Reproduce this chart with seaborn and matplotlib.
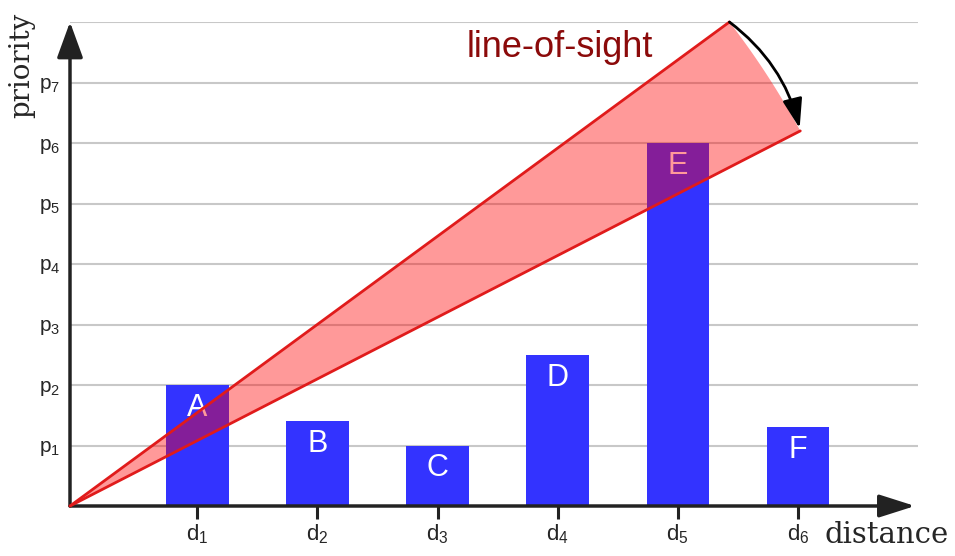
import numpy as np
import pandas as pd
import seaborn as sns
import matplotlib.pyplot as plt
from matplotlib.patches import Polygon

# Data
bar_names = ["A", "B", "C", "D", "E", "F"]
distances = [1, 2, 3, 4, 5, 6]
priorities = [2.0, 1.4, 1.0, 2.5, 6.0, 1.3]
d_labels = [r"$\mathregular{d_1}$", r"$\mathregular{d_2}$", r"$\mathregular{d_3}$",
            r"$\mathregular{d_4}$", r"$\mathregular{d_5}$", r"$\mathregular{d_6}$"]
p_levels = [1, 2, 3, 4, 5, 6, 7, 8]
p_labels = [r"$\mathregular{p_1}$", r"$\mathregular{p_2}$", r"$\mathregular{p_3}$",
            r"$\mathregular{p_4}$", r"$\mathregular{p_5}$", r"$\mathregular{p_6}$",
            r"$\mathregular{p_7}$", ""]
sight_upper = (5.43, 8.0)
sight_lower = (6.02, 6.2)

df = pd.DataFrame({"distance": distances, "priority": priorities})

sns.set_theme(style="white")
plt.rcParams["font.family"] = ["Liberation Sans", "DejaVu Sans"]
plt.rcParams["mathtext.default"] = "regular"

fig = plt.figure(figsize=(9.55, 5.56), dpi=100)
ax = fig.add_axes([70 / 955, 50 / 556, 848 / 955, 484 / 556])

sns.barplot(data=df, x="distance", y="priority", native_scale=True, width=0.52,
            color="#3333ff", saturation=1, errorbar=None, linewidth=0, ax=ax, zorder=2)

x0 = -0.06
ax.set_xlim(x0, 7.0)
ax.set_ylim(0, 8)
for s in ax.spines.values():
    s.set_visible(False)

ax.set_xticks(distances)
ax.set_xticklabels(d_labels, fontsize=16)
ax.set_yticks(p_levels)
ax.set_yticklabels(p_labels, fontsize=15)
ax.tick_params(axis="x", direction="out", length=9, width=2.2, color="#222222", pad=3, bottom=True)
ax.tick_params(axis="y", length=0, pad=7)
ax.grid(True, axis="y", color="#c8c8c8", lw=1.5)
ax.grid(False, axis="x")
ax.set_axisbelow(True)
ax.set_xlabel("")
ax.set_ylabel("")

# letters inside the bars
for x, y, name in zip(distances, priorities, bar_names):
    ax.text(x, y - 0.38, name, color="white", ha="center", va="center",
            fontsize=22, zorder=3)

# line-of-sight sector (arc centred on the origin in screen space)
o = ax.transData.transform((x0, 0))
u = ax.transData.transform(sight_upper)
l = ax.transData.transform(sight_lower)
a_u = np.arctan2(u[1] - o[1], u[0] - o[0])
a_l = np.arctan2(l[1] - o[1], l[0] - o[0])
r_u = np.hypot(*(u - o))
r_l = np.hypot(*(l - o))
t = np.linspace(0, 1, 40)
ang = a_u + (a_l - a_u) * t
rad = r_u + (r_l - r_u) * t
arc_disp = np.column_stack([o[0] + rad * np.cos(ang), o[1] + rad * np.sin(ang)])
arc_data = ax.transData.inverted().transform(arc_disp)
pts = np.vstack([[x0, 0], arc_data])
ax.add_patch(Polygon(pts, closed=True, facecolor="#ff0000", alpha=0.4,
                     edgecolor="none", zorder=4, clip_on=False))
for end in (sight_upper, sight_lower):
    ax.plot([x0, end[0]], [0, end[1]], color="#e01b1b", lw=2, zorder=5,
            clip_on=False, solid_capstyle="round")

ax.annotate("", xy=sight_lower, xytext=sight_upper, annotation_clip=False,
            arrowprops=dict(arrowstyle="-|>,head_length=0.9,head_width=0.3",
                            connectionstyle="arc3,rad=-0.18", color="black",
                            lw=2, mutation_scale=20, shrinkA=0, shrinkB=2),
            zorder=6)

ax.text(4.02, 7.58, "line-of-sight", color="#8b0a0a", fontsize=26,
        ha="center", va="center", zorder=6)

# axis arrows
ax.annotate("", xy=(0.9965, 0), xytext=(0, 0), xycoords="axes fraction",
            annotation_clip=False,
            arrowprops=dict(arrowstyle="-|>,head_length=1.1,head_width=0.35", lw=2.5,
                            color="#222222", mutation_scale=20, shrinkA=0, shrinkB=0),
            zorder=3)
ax.annotate("", xy=(0, 1.0), xytext=(0, 0), xycoords="axes fraction",
            annotation_clip=False,
            arrowprops=dict(arrowstyle="-|>,head_length=1.1,head_width=0.4", lw=2.5,
                            color="#222222", mutation_scale=20, shrinkA=0, shrinkB=0),
            zorder=3)

fig.text(22 / 955, 1 - 65 / 556, "priority", rotation=90, family="DejaVu Serif",
         fontsize=20, ha="center", va="center")
fig.text(887 / 955, 1 - 535 / 556, "distance", family="DejaVu Serif",
         fontsize=21, ha="center", va="center")

fig.savefig("out.png", dpi=100)
